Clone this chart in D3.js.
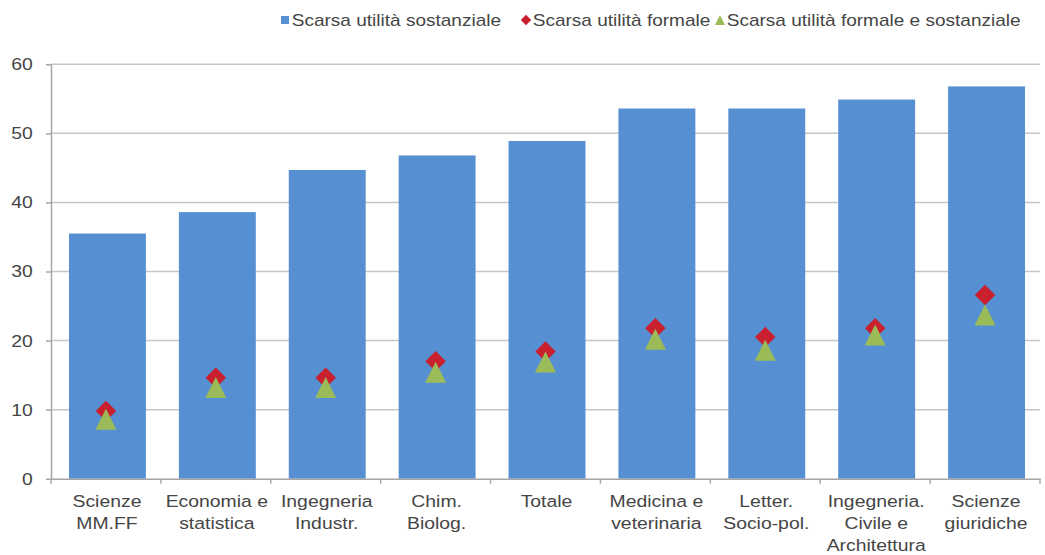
<!DOCTYPE html>
<html>
<head>
<meta charset="utf-8">
<script src="https://cdn.jsdelivr.net/npm/d3@7"></script>
<style>
  body { margin: 0; background: #fff; }
  svg { display: block; font-family: Arial, "Liberation Sans", sans-serif; }
</style>
</head>
<body>
<svg id="chart" width="1045" height="555"></svg>
<script>
// Categories (multi-line labels split on "\n")
const categories = [
  "Scienze\nMM.FF",
  "Economia e\nstatistica",
  "Ingegneria\nIndustr.",
  "Chim.\nBiolog.",
  "Totale",
  "Medicina e\nveterinaria",
  "Letter.\nSocio-pol.",
  "Ingegneria.\nCivile e\nArchitettura",
  "Scienze\ngiuridiche"
];
const sostanziale = [35.5, 38.6, 44.7, 46.8, 48.9, 53.6, 53.6, 54.9, 56.8];
const formale = [9.8, 14.6, 14.6, 17.0, 18.4, 21.8, 20.5, 21.8, 26.6];
const formaleESostanziale = [8.6, 13.2, 13.2, 15.4, 16.9, 20.2, 18.6, 20.8, 23.7];
const yTicks = [0, 10, 20, 30, 40, 50, 60];
const seriesNames = [
  "Scarsa utilità sostanziale",
  "Scarsa utilità formale",
  "Scarsa utilità formale e sostanziale"
];

const colors = { bar: "#5690D3", diamond: "#C8202F", triangle: "#9BBB59" };
const textColor = "#454545";

const svg = d3.select("#chart");
const plotLeft = 51, plotRight = 1040, plotTop = 64.3, plotBottom = 478.7;

const x = d3.scaleBand()
  .domain(categories)
  .range([plotLeft, plotRight])
  .paddingInner(0.3)
  .paddingOuter(0.15);

const y = d3.scaleLinear().domain([0, 60]).range([plotBottom, plotTop]);

// Gridlines
svg.append("g")
  .selectAll("line")
  .data(yTicks.filter(d => d > 0))
  .join("line")
  .attr("x1", plotLeft).attr("x2", plotRight)
  .attr("y1", d => y(d)).attr("y2", d => y(d))
  .attr("stroke", "#c6c6c6").attr("stroke-width", 1.5);

// Y axis
const yAxis = svg.append("g")
  .attr("transform", `translate(${plotLeft},0)`)
  .call(d3.axisLeft(y).tickValues(yTicks).tickSize(5).tickPadding(11).tickSizeOuter(0));
yAxis.select(".domain").attr("stroke", "#a6a6a6").attr("stroke-width", 1.5);
yAxis.selectAll(".tick line").attr("stroke", "#a6a6a6").attr("stroke-width", 1.5);
yAxis.selectAll(".tick text")
  .attr("fill", textColor)
  .style("font-size", "17px")
  .attr("transform", "scale(1.14,1)");

// Bars
svg.append("g")
  .selectAll("rect")
  .data(sostanziale)
  .join("rect")
  .attr("x", (d, i) => x(categories[i]) + 1.5)
  .attr("width", x.bandwidth())
  .attr("y", d => y(d))
  .attr("height", d => y(0) - y(d))
  .attr("fill", colors.bar);

// X axis line and boundary ticks
const xAxis = svg.append("g")
  .attr("transform", `translate(0,${plotBottom})`)
  .call(d3.axisBottom(x).tickSize(0).tickFormat("").tickSizeOuter(0));
xAxis.select(".domain").attr("stroke", "#a6a6a6").attr("stroke-width", 1.5);

const boundaries = categories.map(c => x(c) - x.step() * x.paddingInner() / 2)
  .concat([plotRight]);
boundaries[0] = plotLeft;
svg.append("g")
  .selectAll("line")
  .data(boundaries)
  .join("line")
  .attr("x1", d => d).attr("x2", d => d)
  .attr("y1", plotBottom).attr("y2", plotBottom + 5)
  .attr("stroke", "#a6a6a6").attr("stroke-width", 1.5);

// Category labels
const labels = svg.append("g")
  .selectAll("g")
  .data(categories)
  .join("g")
  .attr("transform", d => `translate(${x(d) + x.bandwidth() / 2 + 1},0)`);
labels.append("text")
  .attr("text-anchor", "middle")
  .attr("fill", textColor)
  .style("font-size", "17px")
  .attr("transform", "scale(1.14,1)")
  .selectAll("tspan")
  .data(d => d.split("\n"))
  .join("tspan")
  .attr("x", 0)
  .attr("y", (d, i) => 507.5 + i * 22)
  .text(d => d);

// Marker shapes: square-on-point diamond and a triangle as tall as it is wide
const diamondType = {
  draw(ctx, size) {
    const r = Math.sqrt(size) / 2;
    ctx.moveTo(0, -r); ctx.lineTo(r, 0); ctx.lineTo(0, r); ctx.lineTo(-r, 0); ctx.closePath();
  }
};
const triangleType = {
  draw(ctx, size) {
    const r = Math.sqrt(size) / 2;
    ctx.moveTo(0, -r); ctx.lineTo(r, r); ctx.lineTo(-r, r); ctx.closePath();
  }
};

svg.append("g")
  .selectAll("path")
  .data(formale)
  .join("path")
  .attr("d", d3.symbol(diamondType, 420))
  .attr("transform", (d, i) => `translate(${x(categories[i]) + x.bandwidth() / 2},${y(d)})`)
  .attr("fill", colors.diamond);

svg.append("g")
  .selectAll("path")
  .data(formaleESostanziale)
  .join("path")
  .attr("d", d3.symbol(triangleType, 440))
  .attr("transform", (d, i) => `translate(${x(categories[i]) + x.bandwidth() / 2},${y(d)})`)
  .attr("fill", colors.triangle);

// Legend
const legendItems = [
  { name: seriesNames[0], type: d3.symbolSquare, size: 64, color: colors.bar, x: 285 },
  { name: seriesNames[1], type: diamondType, size: 110, color: colors.diamond, x: 526 },
  { name: seriesNames[2], type: triangleType, size: 100, color: colors.triangle, x: 720 }
];
const legend = svg.append("g")
  .selectAll("g")
  .data(legendItems)
  .join("g")
  .attr("transform", d => `translate(${d.x},20)`);
legend.append("path")
  .attr("d", d => d3.symbol(d.type, d.size)())
  .attr("fill", d => d.color);
legend.append("text")
  .attr("x", 6)
  .attr("y", 6)
  .attr("fill", textColor)
  .style("font-size", "17px")
  .attr("transform", "scale(1.12,1)")
  .text(d => d.name);
</script>
</body>
</html>
